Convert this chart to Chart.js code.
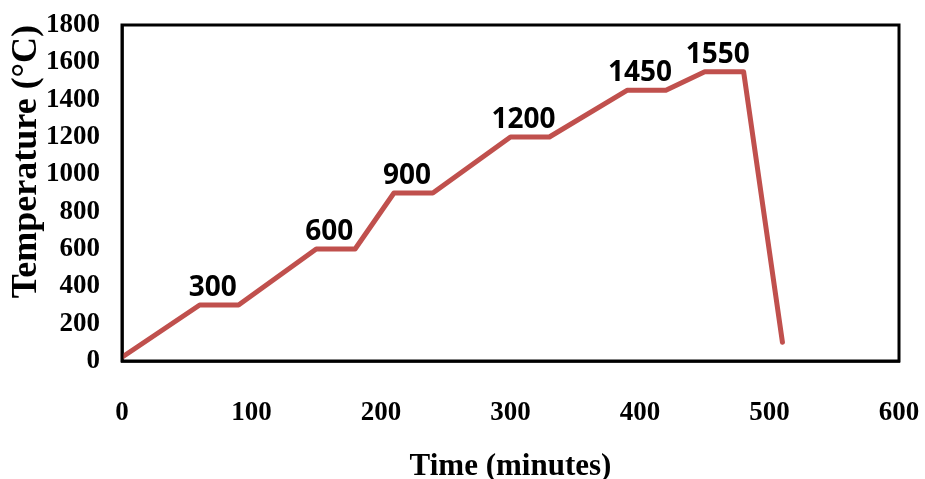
<!DOCTYPE html>
<html>
<head>
<meta charset="utf-8">
<script src="https://cdn.jsdelivr.net/npm/chart.js@4/dist/chart.umd.min.js"></script>
<style>
html,body{margin:0;padding:0;background:#fff;}
#wrap{width:925px;height:479px;}
</style>
</head>
<body>
<div id="wrap"><canvas id="c" width="925" height="479"></canvas></div>
<script>
// Data
const timeMinutes = [0, 60, 90, 150, 180, 210, 240, 300, 330, 390, 420, 450, 480, 510];
const temperatureC = [20, 300, 300, 600, 600, 900, 900, 1200, 1200, 1450, 1450, 1550, 1550, 100];
const labelPointIndex = [1, 3, 5, 7, 9, 11];
const xTicks = [0, 100, 200, 300, 400, 500, 600];
const yTicks = [0, 200, 400, 600, 800, 1000, 1200, 1400, 1600, 1800];

const points = timeMinutes.map((t, i) => ({x: t, y: temperatureC[i]}));

const frame = {
  id: 'frame',
  afterDraw(chart) {
    const {ctx, chartArea: a} = chart;
    ctx.save();
    ctx.strokeStyle = '#000';
    ctx.lineWidth = 3;
    ctx.strokeRect(a.left, a.top, a.right - a.left, a.bottom - a.top);
    ctx.restore();
  }
};

const pointLabels = {
  id: 'pointLabels',
  afterDatasetsDraw(chart) {
    const {ctx} = chart;
    const meta = chart.getDatasetMeta(0);
    ctx.save();
    ctx.font = 'bold 28px "Open Sans"';
    ctx.fillStyle = '#000';
    ctx.textAlign = 'center';
    ctx.textBaseline = 'middle';
    labelPointIndex.forEach(i => {
      const el = meta.data[i];
      ctx.fillText(String(temperatureC[i]), el.x + 13, el.y - 17);
    });
    ctx.restore();
  }
};

function noPad(s) { s.paddingLeft = 0; s.paddingRight = 0; s.paddingTop = 0; s.paddingBottom = 0; }

new Chart(document.getElementById('c'), {
  type: 'line',
  data: {
    datasets: [{
      data: points,
      borderColor: '#C0504D',
      borderWidth: 5,
      pointRadius: 0,
      borderJoinStyle: 'round',
      borderCapStyle: 'round',
      tension: 0,
      fill: false
    }]
  },
  options: {
    responsive: false,
    animation: false,
    devicePixelRatio: 1,
    layout: {padding: {left: 0, top: 25, right: 26, bottom: 0}},
    plugins: {legend: {display: false}, tooltip: {enabled: false}},
    scales: {
      x: {
        type: 'linear',
        min: 0, max: 600,
        afterBuildTicks(s) { s.ticks = xTicks.map(v => ({value: v})); },
        afterFit(s) { s.height = 118; noPad(s); },
        grid: {display: false},
        border: {display: true, color: '#404040', width: 3},
        ticks: {
          padding: 28,
          color: '#000',
          callback: v => String(v),
          font: {family: '"Liberation Serif"', weight: 'bold', size: 27}
        },
        title: {
          display: true,
          text: 'Time (minutes)',
          color: '#000',
          font: {family: '"Liberation Serif"', weight: 'bold', size: 31, lineHeight: 0.8},
          padding: {top: 0, bottom: 0}
        }
      },
      y: {
        type: 'linear',
        min: 0, max: 1800,
        afterBuildTicks(s) { s.ticks = yTicks.map(v => ({value: v})); },
        afterFit(s) { s.width = 122; noPad(s); },
        grid: {display: false},
        border: {display: true, color: '#404040', width: 3},
        ticks: {
          padding: 14,
          color: '#000',
          callback: v => String(v),
          font: {family: '"Liberation Serif"', weight: 'bold', size: 27}
        },
        title: {
          display: true,
          text: 'Temperature (°C)',
          align: 'end',
          color: '#000',
          font: {family: '"Liberation Serif"', weight: 'bold', size: 36, lineHeight: 1},
          padding: {top: 9, bottom: 0}
        }
      }
    }
  },
  plugins: [frame, pointLabels]
});
</script>
</body>
</html>
